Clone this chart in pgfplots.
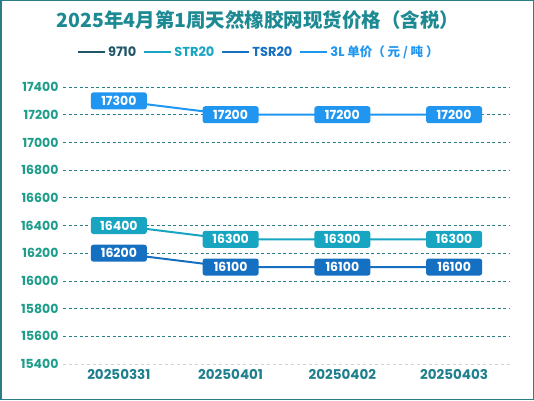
\documentclass[border=0pt]{standalone}
\usepackage{pgfplots}
\pgfplotsset{compat=1.18}
\usepackage{fontspec}
\setmainfont{Poppins}
\newfontfamily\cjk{Noto Sans CJK SC}

\definecolor{c9710}{HTML}{1F5566}
\definecolor{cstr}{HTML}{17A5C2}
\definecolor{ctsr}{HTML}{1670C2}
\definecolor{cthreel}{HTML}{2196F0}
\definecolor{titlec}{HTML}{1D8A93}
\definecolor{ytc}{HTML}{1E9E8A}
\definecolor{xtc}{HTML}{1F7F8C}
\definecolor{gridc}{HTML}{2A7F86}
\definecolor{framec}{HTML}{2A7F86}

\pgfplotstableread{
x str tsr threel
0 16400 16200 17300
1 16300 16100 17200
2 16300 16100 17200
3 16300 16100 17200
}\prices

\begin{document}
\begin{tikzpicture}[x=1pt,y=1pt]
\path[use as bounding box] (0,0) rectangle (534,400);
\draw[framec, line width=1.5pt] (0.75,0.75) rectangle (533.25,399.25);
\node[text=titlec, font=\cjk\bfseries\fontsize{19.5}{21}\selectfont] at (258,380)
  {2025年4月第1周天然橡胶网现货价格（含税）};
\begin{axis}[
    at={(63pt,36pt)}, anchor=south west,
    scale only axis, width=447pt, height=277pt,
    xmin=-0.5, xmax=3.5, ymin=15400, ymax=17400,
    xtick={0,1,2,3},
    xticklabels={20250331,20250401,20250402,20250403},
    ytick={15600,15800,...,17400},
    extra y ticks={15400},
    extra y tick style={grid style={dashed, gray!35, line width=0.8pt}},
    scaled y ticks=false,
    axis line style={draw=none},
    major tick length=0pt,
    ymajorgrids,
    grid style={dash pattern=on 3pt off 2.5pt, gridc, line width=0.7pt},
    /pgf/number format/.cd, fixed, 1000 sep={}, assume math mode=true, /pgfplots/.cd,
    yticklabel style={text=ytc, font=\bfseries\fontsize{12.5}{13}\selectfont, xshift=-1pt},
    xticklabel style={text=xtc, font=\bfseries\fontsize{13.5}{14}\selectfont, yshift=-2pt},
    legend style={at={(axis description cs:0.438,1.126)}, anchor=center, draw=none,
        fill=none, font=\bfseries\fontsize{13}{14}\selectfont},
    legend columns=-1,
    legend cell align=left,
    /tikz/every even column/.append style={column sep=5pt},
    legend image code/.code={\draw[#1] (0pt,0pt) -- (27pt,0pt);},
    every node near coord/.append style={anchor=center, text=white, rounded corners=2.5pt,
        minimum width=56pt, minimum height=17pt, inner sep=1pt,
        font=\bfseries\fontsize{12.5}{13}\selectfont},
  ]
  \addlegendimage{c9710, line width=2pt}
  \addlegendentry{\textcolor{c9710}{9710}}
  \addplot[cstr, line width=2pt, nodes near coords,
      every node near coord/.append style={fill=cstr}] table[x=x, y=str] {\prices};
  \addlegendentry{\textcolor{cstr}{STR20}}
  \addplot[ctsr, line width=2pt, nodes near coords,
      every node near coord/.append style={fill=ctsr}] table[x=x, y=tsr] {\prices};
  \addlegendentry{\textcolor{ctsr}{TSR20}}
  \addplot[cthreel, line width=2pt, nodes near coords,
      every node near coord/.append style={fill=cthreel}] table[x=x, y=threel] {\prices};
  \addlegendentry{\textcolor{cthreel}{3L {\cjk\fontsize{12.5}{14}\selectfont 单价（ 元 / 吨 ）}}}
\end{axis}
\end{tikzpicture}
\end{document}
